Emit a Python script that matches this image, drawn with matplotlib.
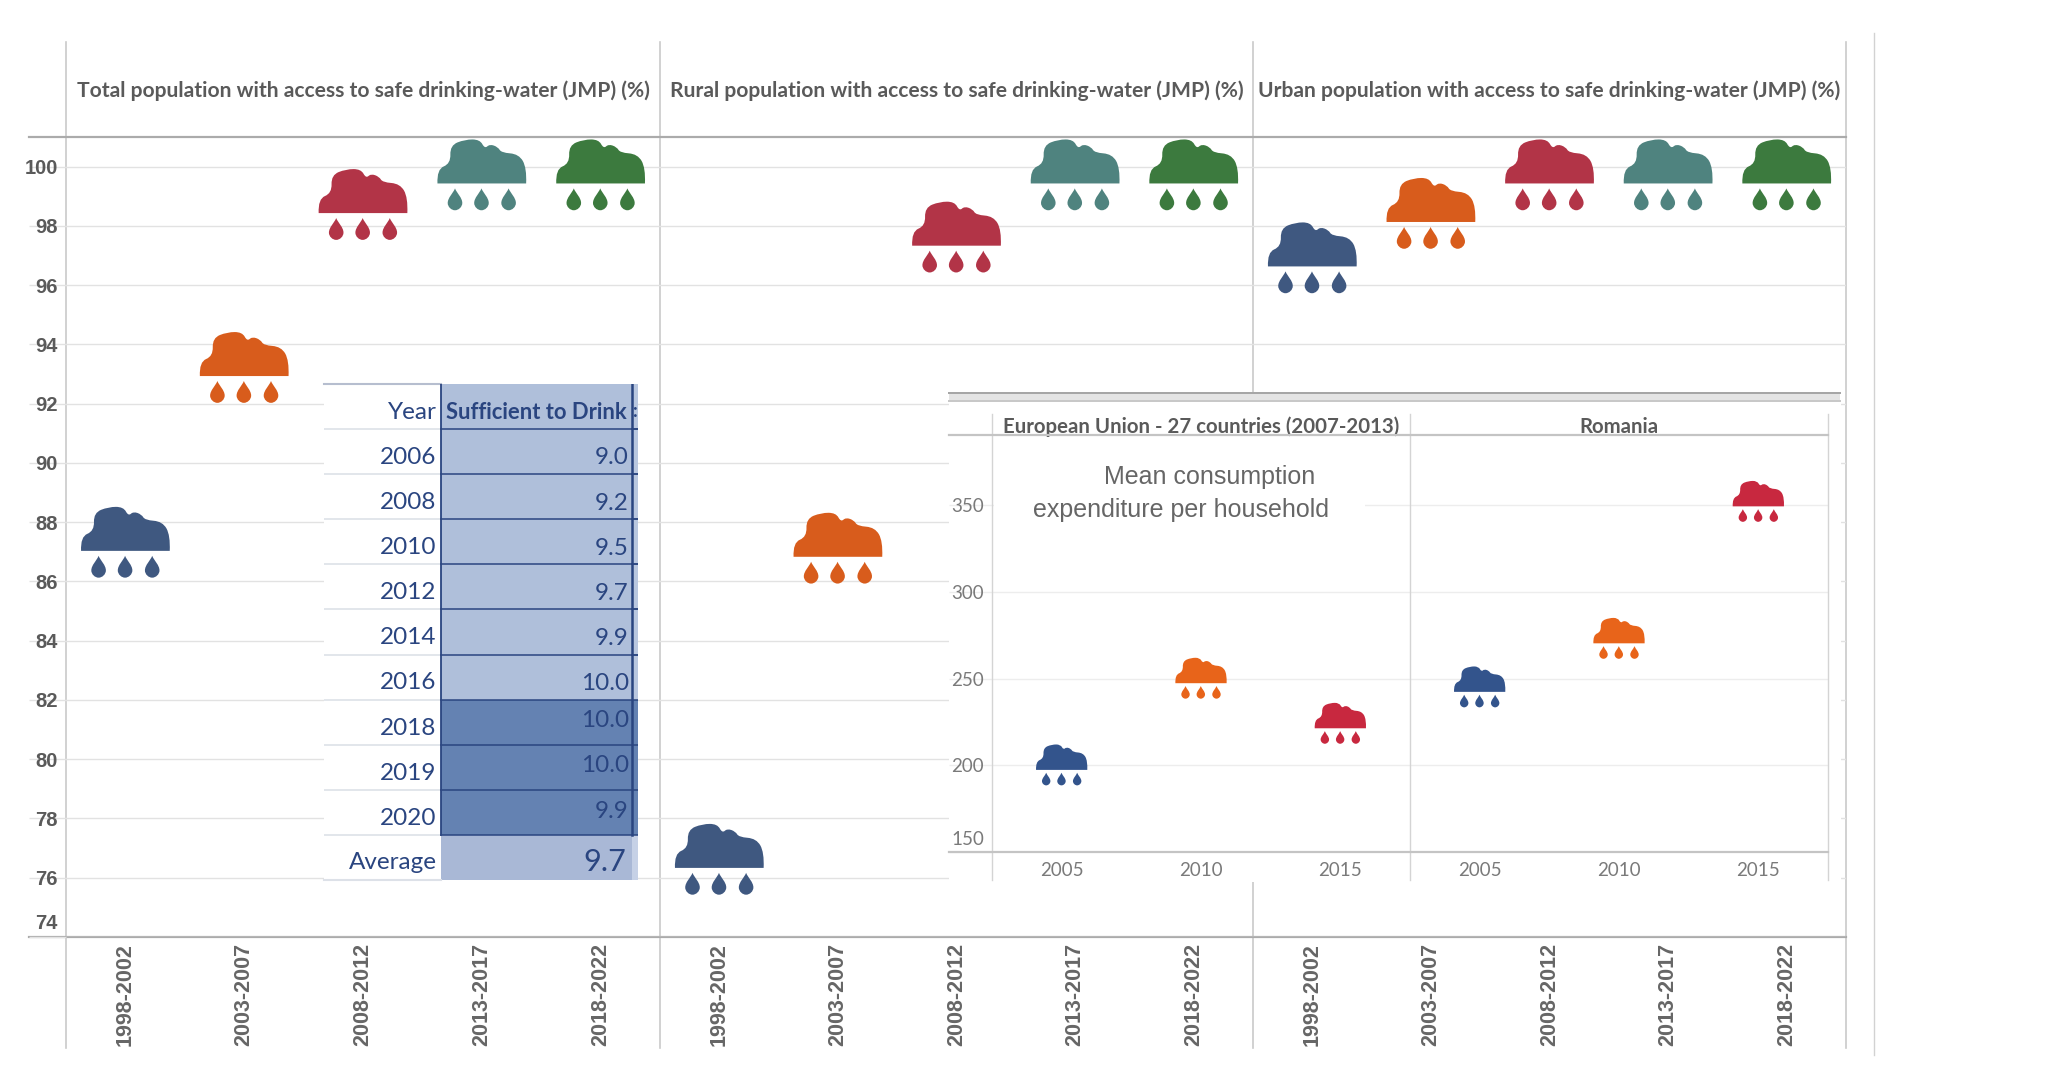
import matplotlib
matplotlib.use("Agg")
import matplotlib.pyplot as plt
from matplotlib.path import Path
from matplotlib.patches import Rectangle
from matplotlib.transforms import ScaledTranslation

W, H = 2064, 1082

periods = ["1998-2002", "2003-2007", "2008-2012", "2013-2017", "2018-2022"]
total_access = [87.3, 93.2, 98.7, 99.7, 99.7]
rural_access = [76.6, 87.1, 97.6, 99.7, 99.7]
urban_access = [96.9, 98.4, 99.7, 99.7, 99.7]
panel_titles = ["Total population with access to safe drinking-water (JMP) (%)",
                "Rural population with access to safe drinking-water (JMP) (%)",
                "Urban population with access to safe drinking-water (JMP) (%)"]
period_colors = ["#3F5880", "#D85C1C", "#B23447", "#4F837F", "#3C7A3E"]
y_ticks = [74, 76, 78, 80, 82, 84, 86, 88, 90, 92, 94, 96, 98, 100]

table_years = ["2006", "2008", "2010", "2012", "2014", "2016", "2018", "2019", "2020"]
table_values = ["9.0", "9.2", "9.5", "9.7", "9.9", "10.0", "10.0", "10.0", "9.9"]
table_average = "9.7"

exp_years = ["2005", "2010", "2015"]
exp_eu = [200, 250, 224]
exp_ro = [245, 273, 352]
exp_titles = ["European Union - 27 countries (2007-2013)", "Romania"]
exp_colors = ["#33548C", "#E8641A", "#C8283F"]
exp_ticks = [150, 200, 250, 300, 350]

GRID = "#E2E2E2"
FRAME = "#ABABAB"
VLINE = "#CACACA"
TEXT = "#5A5A5A"
NAVY = "#2A4580"
HEAD_FONT = "Lato"
px = 72 / 100

fig = plt.figure(figsize=(W / 100, H / 100), dpi=100, facecolor="white")


def axes_at(x0, y0, x1, y1, z):
    ax = fig.add_axes([x0 / W, 1 - y1 / H, (x1 - x0) / W, (y1 - y0) / H], zorder=z)
    ax.patch.set_alpha(0)
    return ax


def overlay(z):
    ax = axes_at(0, 0, W, H, z)
    ax.set_xlim(0, W)
    ax.set_ylim(H, 0)
    ax.axis("off")
    return ax


def cloud_marker():
    c = [(22, 155), (20, 112), (62, 95), (60, 40), (105, 22), (150, 22), (165, 50), (180, 36),
         (205, 45), (215, 62), (268, 66), (292, 108), (290, 155)]
    verts = [c[0]]
    codes = [Path.MOVETO]
    for i in range(1, len(c) - 1):
        nxt = c[i + 1] if i == len(c) - 2 else ((c[i][0] + c[i + 1][0]) / 2, (c[i][1] + c[i + 1][1]) / 2)
        verts += [c[i], nxt]
        codes += [Path.CURVE3, Path.CURVE3]
    verts += [c[0]]
    codes += [Path.CLOSEPOLY]
    for cx in (75, 155, 237):
        verts += [(cx, 170),
                  (cx + 6, 185), (cx + 22, 198), (cx + 22, 214),
                  (cx + 22, 226), (cx + 11, 236), (cx, 236),
                  (cx - 11, 236), (cx - 22, 226), (cx - 22, 214),
                  (cx - 22, 198), (cx - 6, 185), (cx, 170), (cx, 170)]
        codes += [Path.MOVETO] + [Path.CURVE4] * 12 + [Path.CLOSEPOLY]
    return Path([((x - 156) / 136, (131 - y) / 136) for x, y in verts], codes)


CLOUD = cloud_marker()


def lift_label(ax, idx, pixels):
    lab = ax.yaxis.get_major_ticks()[idx].label1
    lab.set_va("bottom")
    lab.set_transform(lab.get_transform() + ScaledTranslation(0, pixels * px / 72, fig.dpi_scale_trans))


# ---------- background frame lines
bg = overlay(0)
for x in (66, 660, 1253, 1846):
    bg.plot([x, x], [42, 1048], color=VLINE, lw=1.2)
bg.plot([1874, 1874], [33, 1055], color="#D2D2D2", lw=1.0)
for y in (137, 937):
    bg.plot([29, 1846], [y, y], color=FRAME, lw=2.2 * px)

# ---------- main panels
for i, (vals, title) in enumerate(zip((total_access, rural_access, urban_access), panel_titles)):
    x0, x1 = [(66, 660), (660, 1253), (1253, 1846)][i]
    ax = axes_at(x0, 137, x1, 937, 1)
    ax.set_xlim(-0.5, 4.5)
    ax.set_ylim(74, 101)
    for s in ax.spines.values():
        s.set_visible(False)
    ax.set_yticks(y_ticks)
    ax.grid(axis="y", color=GRID, lw=1.0)
    ax.set_axisbelow(True)
    ax.set_xticks(range(5))
    ax.set_xticklabels(periods, rotation=90, family="Liberation Sans", fontsize=15.5,
                       fontweight="bold", color="#666666")
    ax.tick_params(axis="x", length=0, pad=4.5)
    if i == 0:
        ax.tick_params(axis="y", length=37 * px, width=1.0, color=GRID, pad=5.8 - 37 * px,
                       labelsize=14.5, labelcolor=TEXT)
        for lab in ax.get_yticklabels():
            lab.set_family("Liberation Sans")
            lab.set_fontweight("bold")
        lift_label(ax, y_ticks.index(74), 4)
    else:
        ax.tick_params(axis="y", length=0, labelleft=False)
    ax.scatter(range(5), vals, marker=CLOUD, s=(90 * px) ** 2, c=period_colors, linewidths=0,
               clip_on=False, zorder=3)
    ax.text(0.5, 1 + 46 / 800, title, transform=ax.transAxes, ha="center", va="center",
            family=HEAD_FONT, fontweight="bold", fontsize=15.1, color="#5A5A5A")

# ---------- table
tb = axes_at(324, 384, 638, 880, 3)
tb.set_xlim(0, 314)
tb.set_ylim(11, 0)
tb.set_xticks([])
tb.set_yticks([])
for s in tb.spines.values():
    s.set_visible(False)
tb.patch.set_alpha(1)
tb.patch.set_facecolor("white")
LIGHT, DARK = "#AFBFDA", "#6482B2"
fills = [LIGHT] * 7 + [DARK] * 3
for r, col in enumerate(fills):
    tb.add_patch(Rectangle((117, r), 197, 1, fc=col, ec="none"))
    if r:
        tb.plot([0, 117], [r, r], color="#DDE1E8", lw=1.2)
        tb.plot([117, 314], [r, r], color=NAVY, lw=1.1)
tb.plot([0, 117], [0, 0], color="#B6BECF", lw=1.5, clip_on=False)
tb.add_patch(Rectangle((308, 0), 6, 7, fc="#B9C7DF", ec="none"))
for r in range(1, 7):
    tb.plot([308, 314], [r, r], color=NAVY, lw=1.1)
tb.add_patch(Rectangle((117, 10), 197, 1, fc="#A9B8D6", ec="none"))
tb.add_patch(Rectangle((308, 10), 6, 1, fc="#C6D1E6", ec="none"))
tb.plot([0, 117], [10, 10], color="#DDE1E8", lw=1.2)
tb.plot([117, 314], [10, 10], color=NAVY, lw=1.1)
tb.plot([0, 117], [11, 11], color="#DDE1E8", lw=1.5, clip_on=False)
tb.plot([117, 117], [0, 10], color=NAVY, lw=1.3)
tb.plot([308, 308], [0, 10], color=NAVY, lw=1.8)
tfont = dict(family="Lato", color=NAVY, fontsize=17.5, va="center")
tb.text(112.5, 0.63, "Year", ha="right", **tfont)
tb.text(303, 0.63, "Sufficient to Drink", ha="right", family="Lato", fontweight="bold",
        color=NAVY, fontsize=15.8, va="center")
tb.text(309.5, 0.6, ":", ha="left", family="Lato", fontweight="bold", color=NAVY, fontsize=13, va="center")
for r, (yr, v) in enumerate(zip(table_years, table_values), start=1):
    dark = fills[r] == DARK
    tb.text(112.5, r + (0.64 if dark else 0.63), yr, ha="right", **tfont)
    tb.text(305, r + (0.47 if dark else 0.64), v, ha="right", **tfont)
tb.text(112.5, 10.62, "Average", ha="right", **tfont)
tb.text(302, 10.6, table_average, ha="right", family="Lato", color=NAVY, fontsize=22, va="center")

# ---------- inset mask and bars
mask = overlay(2)
mask.add_patch(Rectangle((949, 392), 892, 490, fc="white", ec="none"))
mask.add_patch(Rectangle((949, 392), 891, 9, fc="#E4E4E4", ec="none"))
mask.plot([949, 1840], [393, 393], color="#A6A6A6", lw=2 * px)
mask.plot([949, 1840], [401, 401], color="#C8C8C8", lw=2 * px)

# ---------- inset panels
for i, (vals, title) in enumerate(zip((exp_eu, exp_ro), exp_titles)):
    x0, x1 = [(992, 1410), (1410, 1828)][i]
    ax = axes_at(x0, 435, x1, 852, 3)
    ax.set_xlim(-0.5, 2.5)
    ax.set_ylim(150, 390.5)
    for s in ax.spines.values():
        s.set_visible(False)
    ax.set_yticks(exp_ticks)
    ax.grid(axis="y", color="#EDEDED", lw=1.0)
    ax.set_axisbelow(True)
    ax.set_xticks(range(3))
    ax.set_xticklabels(exp_years, family="Lato", fontsize=13.5, color="#7A7A7A")
    ax.tick_params(axis="x", length=0, pad=7)
    if i == 0:
        ax.tick_params(axis="y", length=43 * px, width=1.0, color="#EDEDED", pad=5.8 - 43 * px,
                       labelsize=13.5, labelcolor="#7A7A7A")
        for lab in ax.get_yticklabels():
            lab.set_family("Lato")
        lift_label(ax, exp_ticks.index(150), 4)
    else:
        ax.tick_params(axis="y", length=0, labelleft=False)
    ax.scatter(range(3), vals, marker=CLOUD, s=(52 * px) ** 2, c=exp_colors, linewidths=0,
               clip_on=False, zorder=3)
    ax.text(0.5, 1.0 + 8 / 417, title, transform=ax.transAxes, ha="center", va="center",
            family=HEAD_FONT, fontweight="bold", fontsize=14.7, color="#5A5A5A")

top = overlay(4)
top.add_patch(Rectangle((994, 460), 371, 66, fc="white", ec="none"))
for x in (992, 1410, 1828):
    top.plot([x, x], [414, 880], color="#D4D4D4", lw=1.0)
for y in (435, 852):
    top.plot([949, 1828], [y, y], color="#C4C4C4", lw=2.2 * px)
top.text(1210, 477, "Mean consumption", ha="center", va="center", family="Liberation Sans",
         fontsize=18, color="#666666")
top.text(1181, 510, "expenditure per household", ha="center", va="center", family="Liberation Sans",
         fontsize=18, color="#666666")

fig.savefig("out.png", dpi=100)
